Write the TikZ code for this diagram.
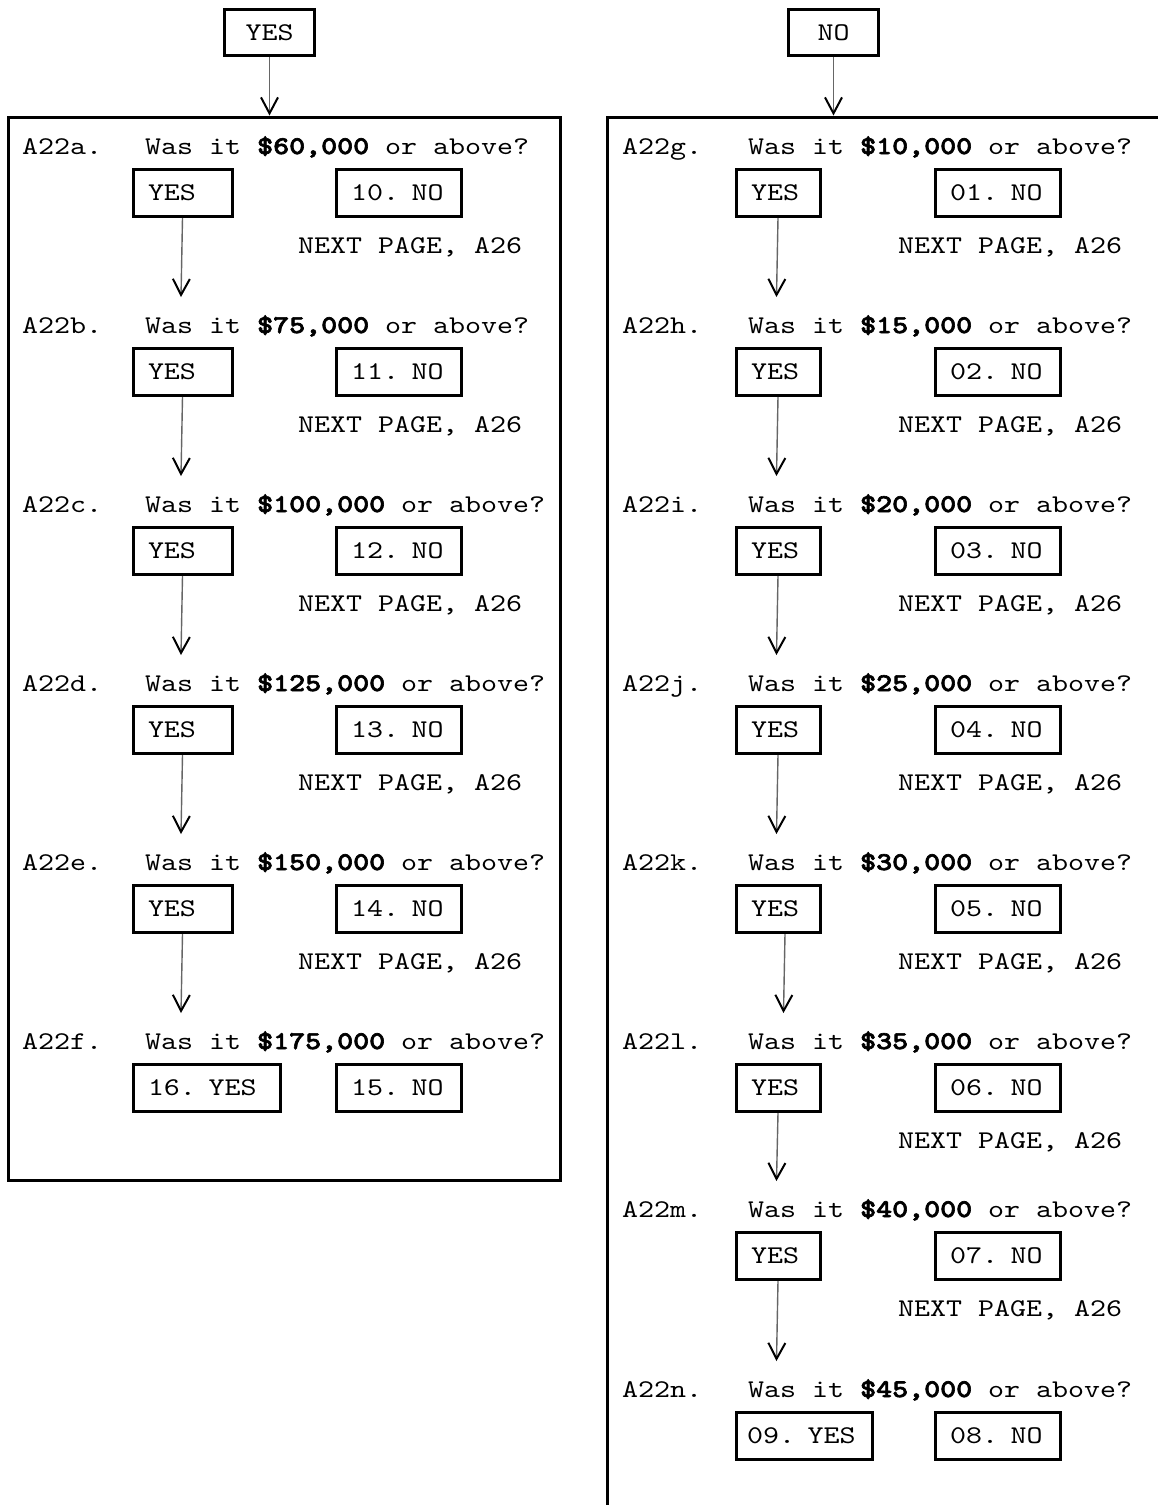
\documentclass[tikz,border=0pt]{standalone}
\usepackage{fontspec}
\setmonofont{lmmono10-regular.otf}[BoldFont=lmmonolt10-bold.otf, FakeStretch=1.195, BoldFeatures={FakeBold=2.5}]
\usetikzlibrary{arrows.meta}
\begin{document}
\begin{tikzpicture}[x=1pt,y=-1pt,
  every node/.style={font=\ttfamily\fontsize{25.5}{30}\selectfont, inner sep=0pt},
  txt/.style={anchor=base west},
  optbox/.style={draw, line width=3pt, anchor=north west, minimum height=47pt,
    inner xsep=15pt, inner ysep=0pt, text width=#1, align=left},
  topbox/.style={draw, line width=3pt, minimum width=90pt, minimum height=46pt},
  panel/.style={line width=3pt},
  flow/.style={draw=black!60, line width=1.4pt,
    -{Straight Barb[length=16pt,width=17pt,line width=2pt,color=black]}}
]
\useasboundingbox (0,0) rectangle (1158,1505);

% top boxes
\node[topbox] (TY) at (269.5,32.5) {YES};
\node[topbox] (TN) at (833.5,32.5) {NO};
\coordinate (PLtop) at (269.5,115.5);
\coordinate (PRtop) at (833.5,115.5);
\draw[flow] (TY.south) -- (PLtop);
\draw[flow] (TN.south) -- (PRtop);

% panels
\draw[panel] (8,117) rectangle (560,1180);
\draw[panel] (1160,117) -- (607,117) -- (607,1507);

% left column
\foreach \l/\amt/\no [count=\i from 0] in {a/{60,000}/10, b/{75,000}/11, c/{100,000}/12, d/{125,000}/13, e/{150,000}/14} {
  \pgfmathsetmacro\b{154+179*\i}
  \node[txt] (L\l) at (22,\b) {A22\l.};
  \node[txt] (Q\l) at (145,\b) {Was it \textbf{\$\amt} or above?};
  \node[optbox=69pt] (Y\l) at (131.5,\b+14) {YES};
  \node[optbox=95pt] (N\l) at (334.5,\b+14) {\no. NO};
  \node[txt] (P\l) at (298,\b+99) {NEXT PAGE, A26};
  \coordinate (T\l) at (181,\b+179-36);
  \draw[flow] (Y\l.south) -- (T\l);
}
\node[txt] (Lf) at (22,1049) {A22f.};
\node[txt] (Qf) at (145,1049) {Was it \textbf{\$175,000} or above?};
\node[optbox=117pt] (Yf) at (131.5,1063) {16. YES};
\node[optbox=95pt] (Nf) at (334.5,1063) {15. NO};

% right column
\foreach \l/\amt/\no/\b/\nb/\dx in {g/{10,000}/01/154/333/0, h/{15,000}/02/333/512/0, i/{20,000}/03/512/691/0, j/{25,000}/04/691/870/0, k/{30,000}/05/870/1049/7, l/{35,000}/06/1049/1217/0, m/{40,000}/07/1217/1397/0} {
  \node[txt] (L\l) at (622,\b) {A22\l.};
  \node[txt] (Q\l) at (748,\b) {Was it \textbf{\$\amt} or above?};
  \node[optbox=54pt] (Y\l) at (734.5,\b+14) {YES};
  \node[optbox=95pt] (N\l) at (933.5,\b+14) {\no. NO};
  \node[txt] (P\l) at (898,\b+99) {NEXT PAGE, A26};
  \coordinate (T\l) at (776.5+\dx,\nb-36);
  \draw[flow] ([xshift=\dx pt]Y\l.south) -- (T\l);
}
\node[txt] (Ln) at (622,1397) {A22n.};
\node[txt] (Qn) at (748,1397) {Was it \textbf{\$45,000} or above?};
\node[optbox=114pt, inner xsep=11pt] (Yn) at (734.5,1411) {09. YES};
\node[optbox=95pt] (Nn) at (933.5,1411) {08. NO};
\end{tikzpicture}
\end{document}
